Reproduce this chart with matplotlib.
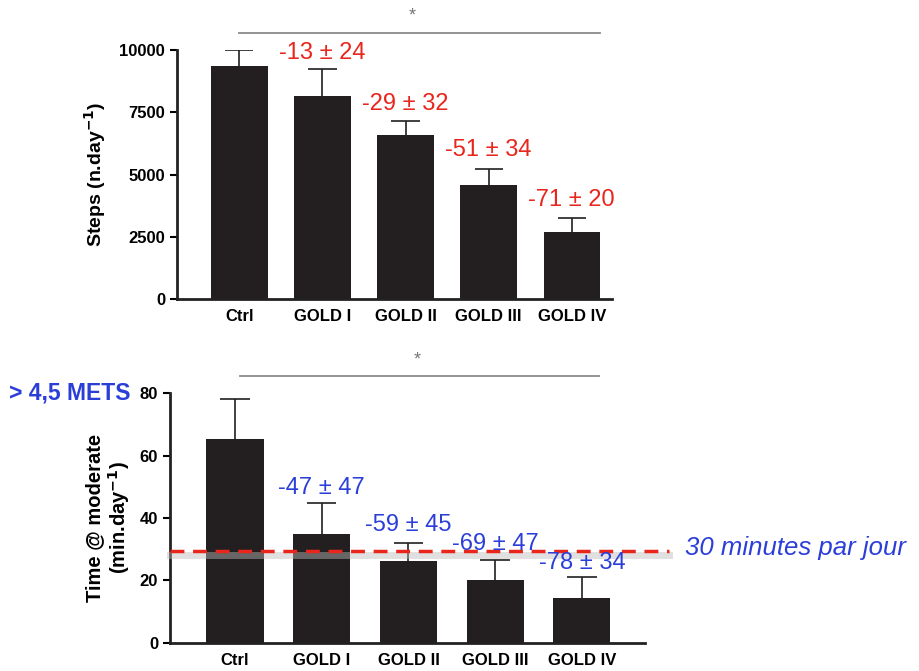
import matplotlib
matplotlib.use("Agg")
import matplotlib.pyplot as plt
import numpy as np

plt.rcParams['font.family'] = ['Liberation Sans', 'DejaVu Sans']

groups = ["Ctrl", "GOLD I", "GOLD II", "GOLD III", "GOLD IV"]

# steps per day
steps_mean = [9350, 8150, 6580, 4570, 2700]
steps_err = [670, 1070, 560, 660, 560]
steps_notes = ["-13 ± 24", "-29 ± 32", "-51 ± 34", "-71 ± 20"]
steps_note_y = [9900, 7820, 6000, 3990]

# time at moderate intensity
mod_mean = [65.2, 34.8, 26.2, 20.1, 14.4]
mod_err = [13.0, 10.1, 5.7, 6.4, 6.7]
mod_notes = ["-47 ± 47", "-59 ± 45", "-69 ± 47", "-78 ± 34"]
mod_note_y = [49.7, 37.9, 31.8, 25.7]
target_min = 29.5

bar_col = "#231f20"
red = "#e8261c"
blue = "#2b3fd8"
grey = "#8a8a8a"

fig = plt.figure(figsize=(9.19, 6.71), dpi=100)
ax1 = fig.add_axes([0.1926, 0.5544, 0.473, 0.371])
ax2 = fig.add_axes([0.185, 0.042, 0.517, 0.372])

x = np.arange(len(groups))


def style(ax):
    for s in ["top", "right"]:
        ax.spines[s].set_visible(False)
    for s in ["left", "bottom"]:
        ax.spines[s].set_linewidth(2)
        ax.spines[s].set_color("#222222")
    ax.tick_params(axis="x", length=0, pad=7)
    ax.tick_params(axis="y", length=5, width=1.5, direction="out")
    for lab in ax.get_xticklabels() + ax.get_yticklabels():
        lab.set_fontweight("bold")
        lab.set_fontsize(12)


def upper_err(ax, xs, means, errs, cap):
    tops = np.array(means) + np.array(errs)
    ax.vlines(xs, means, tops, color=bar_col, lw=1.2, zorder=1)
    ax.hlines(tops, xs - cap, xs + cap, color=bar_col, lw=1.2, zorder=1)


# top panel
ax1.bar(x, steps_mean, width=0.68, color=bar_col, zorder=2)
upper_err(ax1, x, steps_mean, steps_err, 0.17)
ax1.set_xlim(-0.75, 4.48)
ax1.set_ylim(0, 10000)
ax1.set_yticks([0, 2500, 5000, 7500, 10000])
ax1.set_xticks(x)
ax1.set_xticklabels(groups)
ax1.set_ylabel("Steps (n.day$^{\\mathbf{-1}}$)", fontsize=14, fontweight="bold", labelpad=8)
for i, (t, yv) in enumerate(zip(steps_notes, steps_note_y)):
    ax1.text(x[i + 1], yv, t, color=red, fontsize=17, ha="center", va="center")
ax1.plot([0, 4.34], [10700, 10700], color=grey, lw=1.3, clip_on=False)
ax1.text(2.08, 11350, "*", color="#777777", fontsize=13, ha="center", va="center")
style(ax1)

# bottom panel
ax2.bar(x, mod_mean, width=0.66, color=bar_col, zorder=2)
upper_err(ax2, x, mod_mean, mod_err, 0.17)
ax2.set_xlim(-0.75, 4.73)
ax2.set_ylim(0, 80)
ax2.set_yticks([0, 20, 40, 60, 80])
ax2.set_xticks(x)
ax2.set_xticklabels(groups)
ax2.set_ylabel("Time @ moderate\n(min.day$^{\\mathbf{-1}}$)", fontsize=14.5,
               fontweight="bold", labelpad=6, linespacing=1.1)
for i, (t, yv) in enumerate(zip(mod_notes, mod_note_y)):
    ax2.text(x[i + 1], yv, t, color=blue, fontsize=17, ha="center", va="center", zorder=5)
ax2.plot([0.06, 4.2], [85.6, 85.6], color=grey, lw=1.3, clip_on=False)
ax2.text(2.1, 90.5, "*", color="#777777", fontsize=13, ha="center", va="center", clip_on=False)
# 30 min guideline with soft shadow
ax2.plot([-0.75, 5.0], [target_min - 1.2, target_min - 1.2], color="#bbbbbb", lw=5,
         alpha=0.45, clip_on=False, zorder=3)
ax2.plot([-0.75, 5.0], [target_min, target_min], color=red, lw=2.5,
         ls=(0, (4, 2.5)), clip_on=False, zorder=4)
style(ax2)

fig.text(0.745, 0.183, "30 minutes par jour", color=blue, fontsize=18.5,
         fontstyle="italic", ha="left", va="center")
fig.text(0.01, 0.415, "> 4,5 METS", color=blue, fontsize=16.5, fontweight="bold",
         ha="left", va="center")

fig.savefig("out.png", dpi=100)
